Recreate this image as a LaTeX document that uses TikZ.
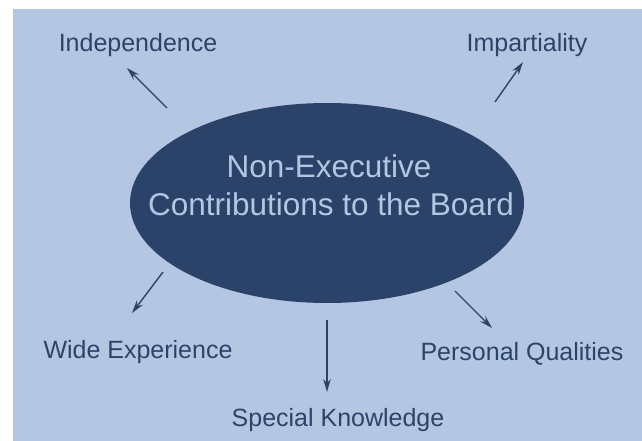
\documentclass[tikz,border=0pt]{standalone}
\usepackage{fontspec}
\setmainfont{Liberation Sans}
\usetikzlibrary{arrows.meta,shapes.geometric}
\definecolor{bgblue}{RGB}{180,198,226}
\definecolor{navy}{RGB}{43,67,104}
\definecolor{labelc}{RGB}{45,68,105}
\tikzset{
  lbl/.style={anchor=base, inner sep=0pt, text=labelc, font=\fontsize{25}{30}\selectfont},
  ctext/.style={anchor=base, inner sep=0pt, text=bgblue, font=\fontsize{31.5}{38}\selectfont},
  arr/.style={draw=labelc, line width=1.4pt, -{Stealth[length=13pt,width=7.5pt]}}
}
\begin{document}
\begin{tikzpicture}[x=1pt,y=-1pt]
\useasboundingbox (0,0) rectangle (642,441);
\fill[white] (0,0) rectangle (642,441);
\fill[bgblue] (13,9) rectangle (642,441);
\node[shape=ellipse, fill=navy, minimum width=394pt, minimum height=200pt, inner sep=0pt] (center) at (327,203) {};
\node[ctext] (t1) at (329,177) {Non-Executive};
\node[ctext] (t2) at (331,215) {Contributions to the Board};
\node[lbl] (ind) at (138,52) {Independence};
\node[lbl] (imp) at (527,52) {Impartiality};
\node[lbl] (wide) at (138,358) {Wide Experience};
\node[lbl] (spec) at (338,426) {Special Knowledge};
\node[lbl] (pers) at (522,360) {Personal Qualities};
\coordinate (a1s) at (167,108); \coordinate (a1e) at (127,68);
\coordinate (a2s) at (495,102); \coordinate (a2e) at (523,62);
\coordinate (a3s) at (163,272); \coordinate (a3e) at (132,313);
\coordinate (a4s) at (327,320); \coordinate (a4e) at (327,392);
\coordinate (a5s) at (455,291); \coordinate (a5e) at (492,328);
\draw[arr] (a1s) -- (a1e);
\draw[arr] (a2s) -- (a2e);
\draw[arr] (a3s) -- (a3e);
\draw[arr] (a4s) -- (a4e);
\draw[arr] (a5s) -- (a5e);
\end{tikzpicture}
\end{document}
